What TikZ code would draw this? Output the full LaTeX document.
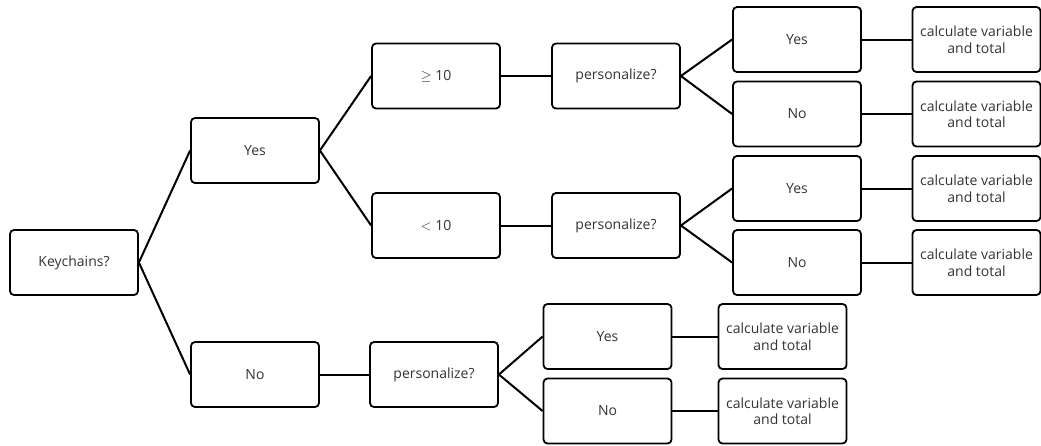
\documentclass[tikz,border=0pt]{standalone}
\usepackage{fontspec}
\setmainfont{Open Sans}
\begin{document}
\begin{tikzpicture}[x=1pt,y=-1pt,
  box/.style={draw=black, line width=1.8pt, rounded corners=4pt, minimum width=128pt, minimum height=65pt, align=center, inner sep=1pt, font=\fontsize{14}{16.5}\selectfont, text=black!80},
  link/.style={line width=2pt, black}]
\useasboundingbox (0,0) rectangle (1041,445);
\node[box] (key) at (74,262.5) {Keychains?};
\node[box] (yes) at (255,150.5) {Yes};
\node[box] (no) at (255,374.5) {No};
\node[box] (ge) at (436,76) {$\geq$ 10};
\node[box] (lt) at (436,225.5) {$<$ 10};
\node[box] (p1) at (616,76) {personalize?};
\node[box] (p2) at (616,225.5) {personalize?};
\node[box] (p3) at (434,374.5) {personalize?};
\node[box] (y1) at (797,39.5) {Yes};
\node[box] (n1) at (797,114) {No};
\node[box] (y2) at (797,188.5) {Yes};
\node[box] (n2) at (797,262.5) {No};
\node[box] (c1) at (976.5,39.5) {calculate variable\\and total};
\node[box] (c2) at (976.5,114) {calculate variable\\and total};
\node[box] (c3) at (976.5,188.5) {calculate variable\\and total};
\node[box] (c4) at (976.5,262.5) {calculate variable\\and total};
\node[box] (y3) at (607.5,336.5) {Yes};
\node[box] (n3) at (607.5,411) {No};
\node[box] (c5) at (782.5,336.5) {calculate variable\\and total};
\node[box] (c6) at (782.5,411) {calculate variable\\and total};
\draw[link] (key.east) -- (yes.west);
\draw[link] (key.east) -- (no.west);
\draw[link] (yes.east) -- (ge.west);
\draw[link] (yes.east) -- (lt.west);
\draw[link] (ge.east) -- (p1.west);
\draw[link] (lt.east) -- (p2.west);
\draw[link] (no.east) -- (p3.west);
\draw[link] (p1.east) -- (y1.west);
\draw[link] (p1.east) -- (n1.west);
\draw[link] (p2.east) -- (y2.west);
\draw[link] (p2.east) -- (n2.west);
\draw[link] (p3.east) -- (y3.west);
\draw[link] (p3.east) -- (n3.west);
\draw[link] (y1.east) -- (c1.west);
\draw[link] (n1.east) -- (c2.west);
\draw[link] (y2.east) -- (c3.west);
\draw[link] (n2.east) -- (c4.west);
\draw[link] (y3.east) -- (c5.west);
\draw[link] (n3.east) -- (c6.west);
\end{tikzpicture}
\end{document}
